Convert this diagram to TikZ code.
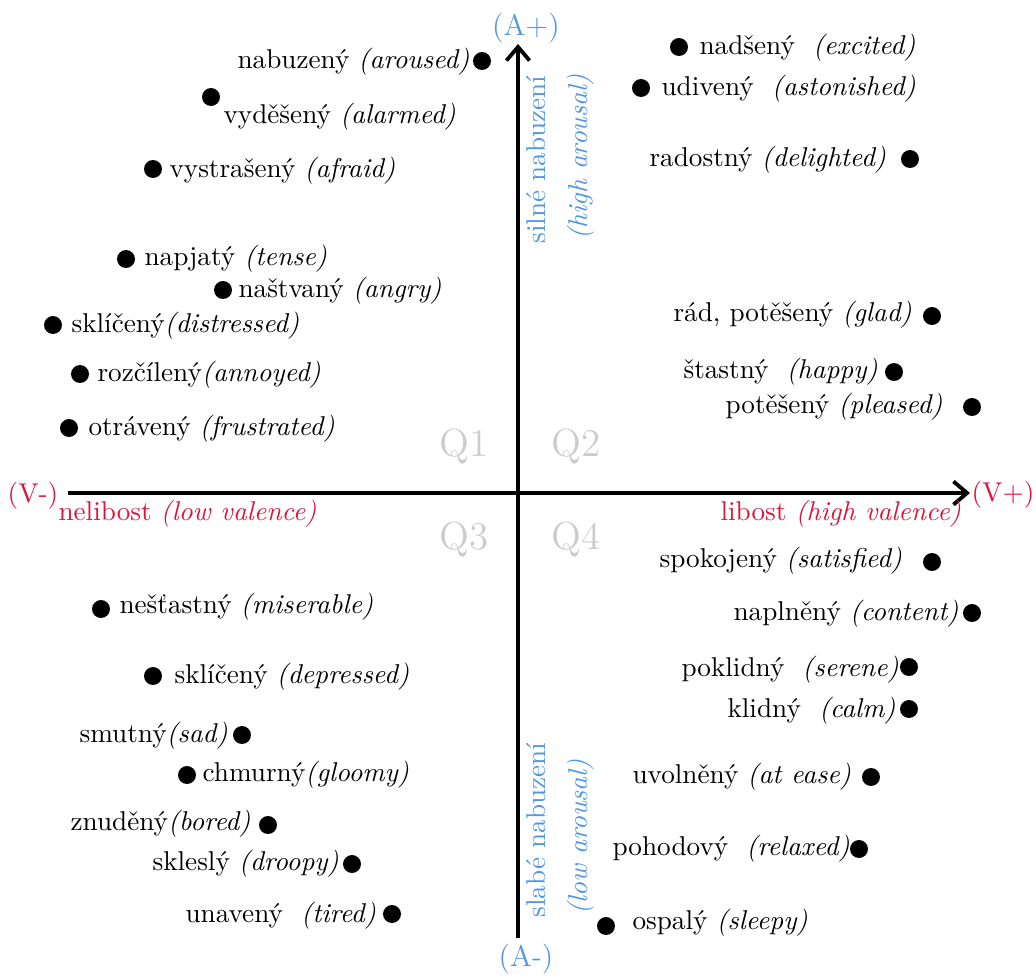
\documentclass[tikz,border=0pt]{standalone}
\usepackage{fontspec}
\usetikzlibrary{arrows.meta}
\definecolor{arousal}{RGB}{80,150,230}
\definecolor{valence}{RGB}{220,20,60}
\definecolor{quadgray}{gray}{0.8}
\tikzset{
  dot/.style={circle, fill=black, inner sep=0pt, minimum size=6.6pt},
  word/.style={inner sep=0pt, anchor=base west},
  axisline/.style={line width=1.4pt, -{Straight Barb[length=5pt,width=8.5pt]}},
  axislabel/.style={inner sep=0pt, anchor=base},
  arousaltext/.style={inner sep=0pt, anchor=base west, rotate=90, text=arousal},
  valencetext/.style={inner sep=0pt, anchor=base west, text=valence},
  quadlabel/.style={inner sep=0pt, anchor=base, text=quadgray, font=\Large}
}
\begin{document}
\begin{tikzpicture}[x=0.3676pt, y=-0.3676pt]
\useasboundingbox (0,0) rectangle (1036,976);

% axes
\coordinate (vminus) at (68,493);
\coordinate (vplus) at (970,493);
\coordinate (aminus) at (518,938);
\coordinate (aplus) at (518,44);
\draw[axisline] (vminus) -- (vplus);
\draw[axisline] (aminus) -- (aplus);

% axis end labels
\node[axislabel, text=arousal, font=\fontsize{11}{13}\selectfont] (Aplus) at (526,35) {(A+)};
\node[axislabel, text=arousal, font=\fontsize{11}{13}\selectfont] (Aminus) at (526,966) {(A-)};
\node[axislabel, text=valence] (Vminus) at (33,502) {(V-)};
\node[axislabel, text=valence] (Vplus) at (1003,501) {(V+)};

% axis captions
\node[valencetext] (neg) at (58,520) {nelibost \textit{(low valence)}};
\node[valencetext] (pos) at (720,520) {libost \textit{(high valence)}};
\node[arousaltext] (high) at (545,244) {silné nabuzení};
\node[arousaltext] (highen) at (587,240) {\textit{(high arousal)}};
\node[arousaltext] (low) at (545,918) {slabé nabuzení};
\node[arousaltext] (lowen) at (587,915) {\textit{(low arousal)}};

% quadrant names
\node[quadlabel] (q1) at (464,456) {Q1};
\node[quadlabel] (q2) at (576,456) {Q2};
\node[quadlabel] (q3) at (464,549) {Q3};
\node[quadlabel] (q4) at (576,549) {Q4};

% Q1: negative valence, high arousal
\node[dot] (d1) at (482,61) {};
\node[word] (t1) at (237,68) {nabuzený \textit{(aroused)}};
\node[dot] (d2) at (211,97) {};
\node[word] (t2) at (223,123) {vyděšený \textit{(alarmed)}};
\node[dot] (d3) at (153,169) {};
\node[word] (t3) at (169,177) {vystrašený \textit{(afraid)}};
\node[dot] (d4) at (126,259) {};
\node[word] (t4) at (144,265) {napjatý \textit{(tense)}};
\node[dot] (d5) at (223,290) {};
\node[word] (t5) at (238,297) {naštvaný \textit{(angry)}};
\node[dot] (d6) at (53,325) {};
\node[word] (t6) at (71,332) {sklíčený\textit{(distressed)}};
\node[dot] (d7) at (80,374) {};
\node[word] (t7) at (97,381) {rozčílený\textit{(annoyed)}};
\node[dot] (d8) at (69,428) {};
\node[word] (t8) at (88,435) {otrávený \textit{(frustrated)}};

% Q2: positive valence, high arousal
\node[dot] (d9) at (679,47) {};
\node[word] (t9) at (699,54) {nadšený\ \ \textit{(excited)}};
\node[dot] (d10) at (641,88) {};
\node[word] (t10) at (661,95) {udivený\ \ \textit{(astonished)}};
\node[dot] (d11) at (910,159) {};
\node[word] (t11) at (649,166) {radostný \textit{(delighted)}};
\node[dot] (d12) at (932,316) {};
\node[word] (t12) at (673,321) {rád, potěšený \textit{(glad)}};
\node[dot] (d13) at (894,372) {};
\node[word] (t13) at (683,378) {štastný\ \ \textit{(happy)}};
\node[dot] (d14) at (972,407) {};
\node[word] (t14) at (725,413) {potěšený \textit{(pleased)}};

% Q3: negative valence, low arousal
\node[dot] (d15) at (101,609) {};
\node[word] (t15) at (119,613) {nešťastný \textit{(miserable)}};
\node[dot] (d16) at (153,676) {};
\node[word] (t16) at (174,683) {sklíčený \textit{(depressed)}};
\node[dot] (d17) at (242,735) {};
\node[word] (t17) at (79,742) {smutný\textit{(sad)}};
\node[dot] (d18) at (187,775) {};
\node[word] (t18) at (202,781) {chmurný\textit{(gloomy)}};
\node[dot] (d19) at (268,825) {};
\node[word] (t19) at (70,830) {znuděný\textit{(bored)}};
\node[dot] (d20) at (352,864) {};
\node[word] (t20) at (152,870) {skleslý \textit{(droopy)}};
\node[dot] (d21) at (392,914) {};
\node[word] (t21) at (185,922) {unavený\ \ \textit{(tired)}};

% Q4: positive valence, low arousal
\node[dot] (d22) at (932,562) {};
\node[word] (t22) at (659,567) {spokojený \textit{(satisfied)}};
\node[dot] (d23) at (972,613) {};
\node[word] (t23) at (733,620) {naplněný \textit{(content)}};
\node[dot] (d24) at (909,667) {};
\node[word] (t24) at (681,676) {poklidný\ \ \textit{(serene)}};
\node[dot] (d25) at (909,709) {};
\node[word] (t25) at (727,717) {klidný\ \ \textit{(calm)}};
\node[dot] (d26) at (871,777) {};
\node[word] (t26) at (632,783) {uvolněný \textit{(at ease)}};
\node[dot] (d27) at (859,849) {};
\node[word] (t27) at (612,855) {pohodový\ \ \textit{(relaxed)}};
\node[dot] (d28) at (606,926) {};
\node[word] (t28) at (632,929) {ospalý \textit{(sleepy)}};
\end{tikzpicture}
\end{document}
